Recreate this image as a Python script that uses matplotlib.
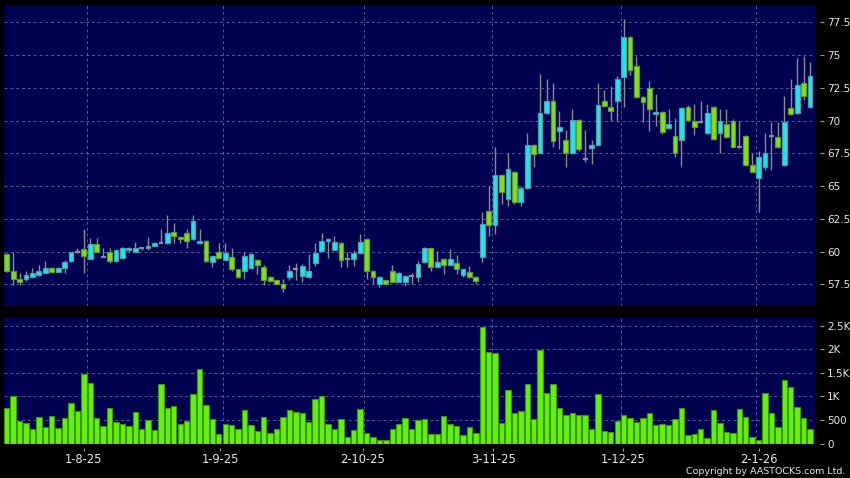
import matplotlib
matplotlib.use('Agg')
import matplotlib.pyplot as plt
import numpy as np

plt.rcParams['font.family'] = 'DejaVu Sans'

BG      = '#000050'
UP      = '#22E4EE'
UP_EDGE = '#4E9AA6'
DN      = '#84DE20'
DN_EDGE = '#5E9A2E'
WICK    = '#8C8C8C'
VOL     = '#62F00C'
VOL_EDGE = '#3A9606'
GRID    = '#5A5A96'
TXT     = '#E8E8E8'

# daily candles, mid-Jul 2025 -> mid-Jan 2026 (trading-day index)
opens = [59.83, 58.55, 57.93, 57.88, 58.08, 58.18, 58.38, 58.75, 58.45, 58.75,
         59.25, 59.95, 60.18, 59.43, 60.55, 59.60, 59.93, 59.25, 59.50, 60.10,
         60.00, 60.30, 60.25, 60.45, 60.68, 60.63, 61.50, 61.13, 61.45, 60.93,
         60.63, 60.78, 59.20, 59.95, 59.38, 59.58, 58.63, 58.55, 58.75, 59.33,
         58.80, 58.05, 57.80, 57.55, 58.05, 58.63, 58.13, 58.05, 59.13, 60.05,
         60.78, 60.13, 60.63, 59.43, 59.43, 59.88, 60.93, 58.50, 57.55, 57.80,
         58.50, 57.70, 57.70, 58.13, 58.05, 59.20, 60.25, 58.83, 59.43, 59.00,
         59.13, 58.20, 58.45, 58.08, 59.58, 63.09, 62.01, 65.85, 64.00, 66.10,
         63.75, 64.83, 68.10, 67.51, 70.58, 71.48, 69.17, 68.48, 67.51, 70.02,
         67.05, 67.90, 68.13, 71.48, 71.04, 71.48, 73.30, 76.40, 74.19, 71.77,
         72.46, 70.48, 70.68, 69.41, 68.85, 68.52, 71.06, 69.99, 69.92, 69.03,
         71.01, 69.03, 69.74, 70.00, 68.00, 68.85, 66.61, 65.59, 66.48, 68.82,
         68.72, 66.61, 70.93, 70.55, 72.89, 71.01]
highs = [59.85, 60.00, 58.38, 58.55, 58.75, 59.00, 59.25, 58.80, 58.80, 59.38,
         60.00, 60.25, 61.75, 61.00, 61.00, 60.25, 60.25, 60.15, 60.35, 60.38,
         60.75, 60.35, 61.08, 60.70, 61.75, 62.75, 62.18, 61.20, 61.75, 62.75,
         61.75, 60.85, 59.63, 60.63, 60.63, 60.25, 58.70, 60.00, 59.85, 59.40,
         59.00, 58.10, 57.85, 57.88, 59.00, 59.13, 59.05, 59.83, 60.68, 61.45,
         61.05, 61.18, 60.70, 60.00, 60.13, 61.30, 61.00, 58.60, 58.10, 57.85,
         59.00, 58.45, 58.20, 58.38, 59.30, 60.35, 60.30, 60.05, 59.50, 60.18,
         59.75, 58.70, 58.88, 58.15, 63.04, 65.00, 67.97, 65.90, 67.51, 66.15,
         65.00, 69.05, 68.20, 73.52, 73.20, 72.88, 70.76, 69.30, 70.89, 70.10,
         69.30, 68.50, 72.88, 72.30, 72.60, 73.40, 77.75, 76.45, 74.96, 71.85,
         73.02, 72.03, 70.75, 70.88, 70.20, 71.00, 71.20, 71.26, 71.49, 71.26,
         71.10, 70.88, 70.88, 70.10, 69.99, 68.90, 67.55, 67.68, 69.03, 69.92,
         69.92, 71.90, 73.17, 74.75, 74.96, 74.45]
lows = [58.45, 57.43, 57.43, 57.75, 58.05, 58.15, 58.35, 58.40, 58.40, 58.38,
        59.20, 59.88, 58.38, 59.40, 60.00, 59.55, 59.13, 59.20, 59.45, 59.93,
        59.95, 60.10, 60.13, 60.40, 60.63, 60.60, 60.63, 60.63, 60.25, 60.90,
        60.60, 59.20, 58.80, 59.45, 59.35, 58.50, 58.00, 57.93, 58.70, 58.25,
        57.43, 57.65, 57.50, 56.93, 57.80, 57.80, 57.68, 58.00, 58.93, 60.00,
        59.50, 60.10, 58.80, 58.80, 58.88, 59.85, 57.88, 57.55, 57.30, 57.43,
        57.65, 57.65, 57.38, 57.55, 57.68, 59.15, 58.50, 58.80, 58.25, 58.95,
        58.25, 58.05, 58.00, 57.50, 59.20, 61.20, 61.37, 63.60, 63.50, 63.60,
        63.50, 64.80, 66.44, 67.45, 70.50, 67.95, 67.82, 66.44, 67.45, 67.70,
        66.80, 66.70, 68.10, 71.00, 70.00, 70.00, 71.00, 73.48, 71.70, 69.87,
        69.23, 69.61, 68.97, 69.35, 67.20, 66.56, 69.95, 68.90, 69.80, 68.95,
        68.50, 67.55, 68.70, 67.95, 67.90, 66.55, 66.05, 63.05, 66.20, 66.20,
        67.90, 66.55, 70.40, 70.50, 71.60, 70.95]
closes = [58.50, 57.88, 57.70, 58.20, 58.38, 58.53, 58.75, 58.45, 58.75, 59.20,
          59.95, 59.95, 59.68, 60.55, 60.00, 59.60, 59.25, 60.10, 60.30, 60.30,
          60.30, 60.30, 60.45, 60.63, 60.68, 61.38, 61.18, 60.93, 60.80, 62.33,
          60.78, 59.25, 59.63, 59.50, 59.88, 58.68, 58.08, 59.63, 59.80, 58.95,
          57.80, 57.75, 57.55, 57.18, 58.55, 58.63, 58.93, 58.55, 59.88, 60.80,
          60.93, 60.75, 59.33, 59.43, 59.88, 60.75, 58.50, 58.05, 58.05, 57.50,
          57.70, 58.38, 58.13, 58.13, 59.05, 60.25, 58.83, 59.20, 59.00, 59.43,
          58.68, 58.63, 58.05, 57.75, 62.09, 62.01, 65.85, 64.52, 66.28, 63.80,
          64.83, 68.10, 67.44, 70.58, 71.48, 68.41, 69.50, 67.51, 70.02, 67.85,
          67.05, 68.13, 71.17, 71.09, 70.71, 73.14, 76.40, 73.86, 71.77, 71.44,
          70.86, 70.68, 69.10, 69.71, 67.55, 70.93, 70.04, 69.54, 69.92, 70.55,
          68.57, 70.00, 68.77, 68.01, 68.00, 66.61, 66.10, 67.25, 67.55, 68.82,
          67.96, 69.92, 70.48, 72.72, 71.88, 73.43]
volumes = [750, 1006, 486, 437, 312, 569, 347, 583, 319, 548,
           854, 687, 1478, 1277, 534, 375, 750, 465, 403, 375,
           666, 312, 500, 285, 1270, 756, 791, 416, 479, 1048,
           1582, 819, 527, 201, 403, 389, 312, 715, 389, 264,
           562, 222, 305, 562, 715, 659, 645, 465, 937, 1000,
           416, 312, 520, 139, 291, 722, 222, 132, 69, 83,
           305, 416, 541, 298, 493, 520, 208, 194, 583, 423,
           361, 173, 354, 215, 2464, 1943, 1909, 430, 1131, 638,
           680, 1270, 520, 1992, 1076, 1270, 753, 614, 651, 595,
           595, 315, 1043, 266, 245, 483, 595, 539, 455, 532,
           651, 385, 420, 399, 518, 749, 175, 196, 308, 126,
           707, 441, 238, 217, 721, 567, 133, 84, 1078, 644,
           343, 1337, 1197, 784, 546, 308]

date_labels = ['1-8-25', '1-9-25', '2-10-25', '3-11-25', '1-12-25', '2-1-26']
date_idx    = [12, 33.2, 55.4, 75.7, 95.9, 117]
grid_idx    = [12.5, 33.6, 55.6, 75.5, 95.6, 116.6]
price_ticks = [57.5, 60, 62.5, 65, 67.5, 70, 72.5, 75, 77.5]
price_labels = ['57.5', '60', '62.5', '65', '67.5', '70', '72.5', '75', '77.5']
vol_ticks  = [0, 500, 1000, 1500, 2000, 2500]
vol_labels = ['0', '500', '1K', '1.5K', '2K', '2.5K']

o = np.array(opens); h = np.array(highs); l = np.array(lows); c = np.array(closes)
x = np.arange(len(o))

fig = plt.figure(figsize=(8.5, 4.78), dpi=100, facecolor='black')
ax  = fig.add_axes([3.5 / 850, 1 - 306 / 478, 811 / 850, 301 / 478])
axv = fig.add_axes([3.5 / 850, 1 - 443.5 / 478, 811 / 850, 125.5 / 478])

for a in (ax, axv):
    a.set_facecolor(BG)
    for s in a.spines.values():
        s.set_visible(False)
    a.set_xlim(-0.5, 125.7)
    for g in grid_idx:
        a.axvline(g, color=GRID, lw=0.7, ls=(0, (3, 3)), zorder=0)

# ── price panel ─────────────────────────────────────────────────────────
ax.set_ylim(55.84, 78.82)
for t in price_ticks:
    ax.axhline(t, color=GRID, lw=0.7, ls=(0, (3, 3)), zorder=0)

ax.vlines(x, l, h, color=WICK, lw=1.0, zorder=2)
doji = np.abs(c - o) < 0.02
up = (c > o) & ~doji
dn = (c < o) & ~doji
ax.bar(x[up], (c - o)[up], bottom=o[up], width=0.74, color=UP,
       edgecolor=UP_EDGE, lw=0.9, zorder=3)
ax.bar(x[dn], (o - c)[dn], bottom=c[dn], width=0.74, color=DN,
       edgecolor=DN_EDGE, lw=0.9, zorder=3)
ax.hlines(o[doji], x[doji] - 0.38, x[doji] + 0.38, color=WICK, lw=1.6, zorder=3)

ax.yaxis.tick_right()
ax.spines['right'].set_position(('outward', 4))
ax.set_yticks(price_ticks)
ax.set_yticklabels(price_labels)
ax.tick_params(axis='y', colors='#9A9A9A', labelcolor=TXT, labelsize=7.5,
               length=3, width=0.8, pad=2)
ax.set_xticks([])

# ── volume panel ────────────────────────────────────────────────────────
axv.set_ylim(0, 2660)
for t in vol_ticks[1:]:
    axv.axhline(t, color=GRID, lw=0.7, ls=(0, (3, 3)), zorder=0)
axv.bar(x, volumes, width=0.84, color=VOL, edgecolor=VOL_EDGE, lw=0.8, zorder=3)

axv.yaxis.tick_right()
axv.spines['right'].set_position(('outward', 4))
axv.spines['bottom'].set_position(('outward', 3))
axv.set_yticks(vol_ticks)
axv.set_yticklabels(vol_labels)
axv.set_xticks(date_idx)
axv.set_xticklabels(date_labels)
axv.tick_params(axis='y', colors='#9A9A9A', labelcolor=TXT, labelsize=7.5,
                length=3, width=0.8, pad=2)
axv.tick_params(axis='x', colors='#9A9A9A', labelcolor=TXT, labelsize=8.3,
                length=2.5, width=0.8, pad=1.5)

fig.text(845 / 850, 1 - 471.5 / 478, 'Copyright by AASTOCKS.com Ltd.',
         color=TXT, fontsize=6.8, ha='right', va='center')

fig.savefig('out.png', dpi=100, facecolor='black')
